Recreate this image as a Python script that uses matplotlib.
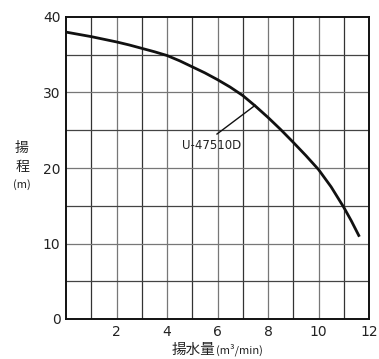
import matplotlib.pyplot as plt

plt.rcParams['font.family'] = ['Noto Sans CJK JP', 'DejaVu Sans']

# performance curve U-47510D
flow = [0, 0.5, 1, 1.5, 2, 2.5, 3, 3.5, 4, 4.5, 5, 5.5, 6, 6.5, 7, 7.5, 8,
        8.5, 9, 9.5, 10, 10.5, 11, 11.3, 11.62]
head = [38.0, 37.7, 37.4, 37.05, 36.7, 36.3, 35.85, 35.4, 34.9, 34.2, 33.4,
        32.6, 31.7, 30.72, 29.6, 28.2, 26.7, 25.1, 23.4, 21.65, 19.8, 17.5,
        14.8, 13.0, 10.9]
x_ticks = [2, 4, 6, 8, 10, 12]
y_ticks = [0, 10, 20, 30, 40]

fig = plt.figure(figsize=(3.79, 3.59), dpi=100)
ax = fig.add_axes([66 / 379, 1 - 319 / 359, 303 / 379, 302 / 359])

ax.set_xlim(0, 12)
ax.set_ylim(0, 40)

# grid
for gx in range(1, 12):
    ax.axvline(gx, color='#333333' if gx % 2 else '#777777', lw=0.9, zorder=1)
for gy in range(5, 40, 5):
    ax.axhline(gy, color='#444444' if gy % 10 else '#777777', lw=0.9, zorder=1)

ax.plot(flow, head, color='#111111', lw=2, zorder=3, solid_capstyle='butt')

ax.plot([7.49, 5.98], [28.3, 24.5], color='#111111', lw=1, zorder=3)
ax.text(5.78, 23.0, 'U-47510D', ha='center', va='center', fontsize=8.5,
        color='#222222', family='DejaVu Sans')

for s in ax.spines.values():
    s.set_linewidth(1.4)
    s.set_color('#111111')

ax.set_xticks(x_ticks)
ax.set_yticks(y_ticks)
ax.tick_params(length=0, pad=4, labelsize=10, labelcolor='#222222')
for lab in ax.get_xticklabels() + ax.get_yticklabels():
    lab.set_family('DejaVu Sans')

fig.text(22 / 379, 1 - 148 / 359, '揚', ha='center', va='center', fontsize=10, color='#222222')
fig.text(22 / 379, 1 - 167 / 359, '程', ha='center', va='center', fontsize=10, color='#222222')
fig.text(22 / 379, 1 - 185 / 359, '(m)', ha='center', va='center', fontsize=8, color='#222222')

fig.text(194 / 379, 1 - 350 / 359, '揚水量', ha='center', va='center', fontsize=10.5, color='#222222')
fig.text(216 / 379, 1 - 350 / 359, '(m³/min)', ha='left', va='center', fontsize=8, color='#222222')

fig.savefig('out.png', dpi=100)
